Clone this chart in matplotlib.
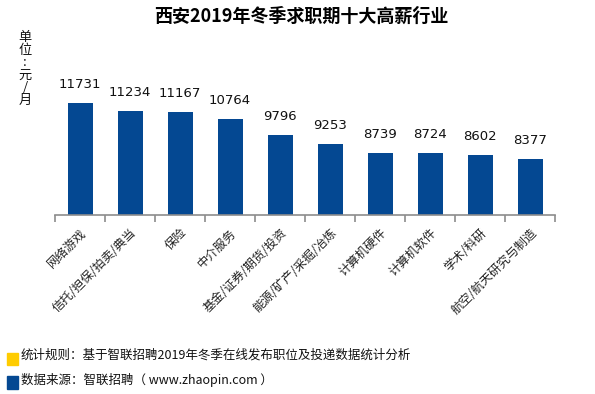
import matplotlib
matplotlib.use("Agg")
import matplotlib.pyplot as plt
from matplotlib.patches import Rectangle

plt.rcParams['font.family'] = ['Noto Sans CJK SC', 'DejaVu Sans']

title = "西安2019年冬季求职期十大高薪行业"
categories = ["网络游戏", "信托/担保/拍卖/典当", "保险", "中介服务", "基金/证券/期货/投资",
              "能源/矿产/采掘/冶炼", "计算机硬件", "计算机软件", "学术/科研", "航空/航天研究与制造"]
salaries = [11731, 11234, 11167, 10764, 9796, 9253, 8739, 8724, 8602, 8377]
unit_chars = ["单", "位", ":", "元", "/", "月"]
note1 = "统计规则：基于智联招聘2019年冬季在线发布职位及投递数据统计分析"
note2 = "数据来源：智联招聘（ www.zhaopin.com ）"

W, H = 595, 394
fig = plt.figure(figsize=(W / 100, H / 100), dpi=100)
ax = fig.add_axes([55 / W, (H - 215) / H, 500 / W, 150 / H])

bar_color = "#044892"
x = list(range(len(categories)))
ax.bar(x, salaries, width=0.5, color=bar_color, zorder=2)
ax.set_xlim(-0.5, len(categories) - 0.5)
ax.set_ylim(5000, 14000)

for xi, v in zip(x, salaries):
    ax.annotate(str(v), (xi, v), xytext=(0, 8.5), textcoords="offset points",
                ha="center", va="bottom", fontsize=9.5, family="DejaVu Sans", color="#111111")

for s in ["top", "right", "left"]:
    ax.spines[s].set_visible(False)
ax.spines["bottom"].set_color("#8c8c8c")
ax.spines["bottom"].set_linewidth(1.2)
ax.set_yticks([])

ax.set_xticks([i - 0.5 for i in range(len(categories) + 1)], minor=False)
ax.set_xticklabels([])
ax.tick_params(axis="x", which="major", length=5, width=1.2, color="#8c8c8c", direction="out")
ax.set_xticks(x, minor=True)
ax.set_xticklabels(categories, minor=True, rotation=45, ha="right", va="top",
                   rotation_mode="anchor", fontsize=8.8, color="#222222")
ax.tick_params(axis="x", which="minor", length=0, pad=8)

fig.text(301 / W, 1 - 16 / H, title, ha="center", va="center", fontsize=13, fontweight="bold")

fig.text(25 / W, 1 - 69 / H, "\n".join(unit_chars), ha="center", va="center",
         multialignment="center", fontsize=9.5, linespacing=0.95, color="#111111")

fig.patches.append(Rectangle((7 / W, 1 - 365 / H), 11 / W, 12 / H, transform=fig.transFigure,
                             color="#FFCC00", figure=fig))
fig.patches.append(Rectangle((7 / W, 1 - 389 / H), 11 / W, 13 / H, transform=fig.transFigure,
                             color="#044892", figure=fig))
fig.text(21 / W, 1 - 355 / H, note1, ha="left", va="center", fontsize=9, color="#111111")
fig.text(21 / W, 1 - 380 / H, note2, ha="left", va="center", fontsize=9, color="#111111")

fig.savefig("out.png", dpi=100)
